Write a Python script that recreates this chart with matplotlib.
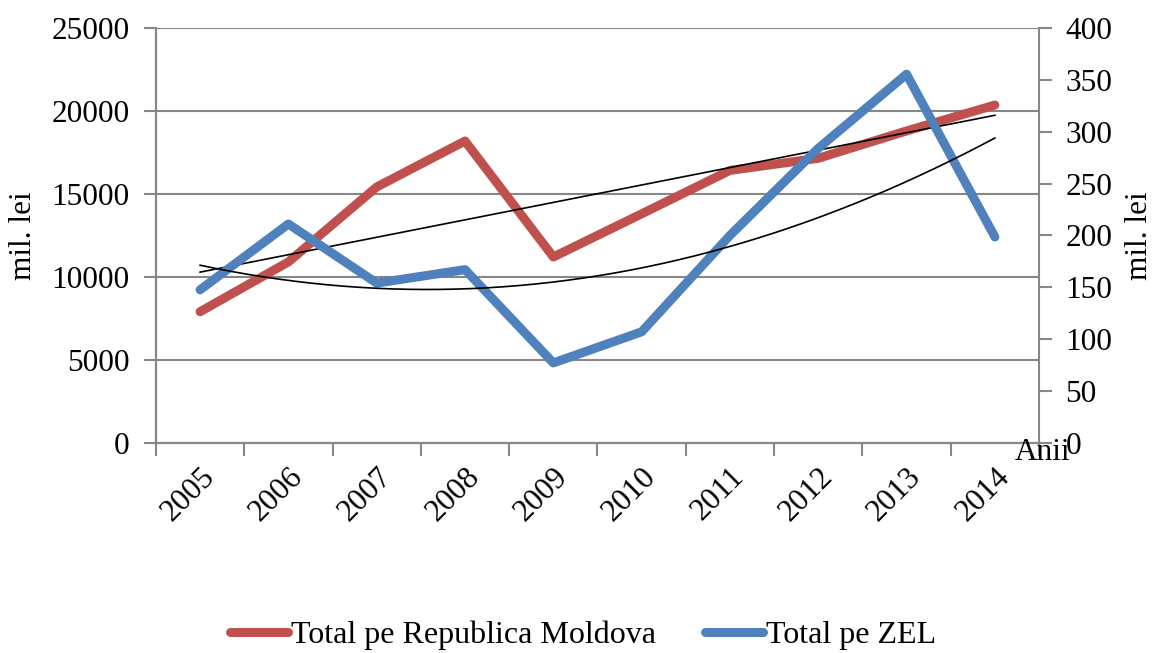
import numpy as np
import matplotlib
matplotlib.use("Agg")
import matplotlib.pyplot as plt
from matplotlib.lines import Line2D

# data
years = ["2005", "2006", "2007", "2008", "2009", "2010", "2011", "2012", "2013", "2014"]
moldova = [7900, 10900, 15420, 18190, 11200, 13800, 16420, 17150, 18800, 20360]   # mil. lei, left axis
zel = [147.5, 211, 154, 167, 77, 107, 200, 284, 355.5, 198.5]                    # mil. lei, right axis

plt.rcParams['font.family'] = ['Liberation Serif', 'DejaVu Serif']
plt.rcParams['font.size'] = 22.5

red = "#C0504D"
blue = "#4F81BD"
grey = "#878787"

fig = plt.figure(figsize=(11.55, 6.53), dpi=100)
ax = fig.add_axes([0.135, 0.322, 0.7646, 0.635])
ax2 = ax.twinx()

x = np.arange(len(years))

ax.plot(x, moldova, color=red, lw=6.5, solid_capstyle="round", solid_joinstyle="round", zorder=2)
ax2.plot(x, zel, color=blue, lw=6.5, solid_capstyle="round", solid_joinstyle="round", zorder=2)

# trend lines: linear for Moldova, 2nd order polynomial for ZEL
xs = np.linspace(0, len(years) - 1, 200)
p1 = np.polyfit(x, moldova, 1)
p2 = np.polyfit(x, zel, 2)
ax.plot(xs, np.polyval(p1, xs), color="black", lw=1.2, zorder=3)
ax2.plot(xs, np.polyval(p2, xs), color="black", lw=1.2, zorder=3)

ax.set_xlim(-0.5, len(years) - 0.5)
ax.set_ylim(0, 25000)
ax2.set_ylim(0, 400)
ax.set_yticks(np.arange(0, 25001, 5000))
ax2.set_yticks(np.arange(0, 401, 50))
ax.grid(axis="y", color=grey, lw=1.5)
ax.set_axisbelow(True)

ax.set_xticks(np.arange(-0.5, len(years), 1.0))
ax.set_xticklabels([])
ax.set_xticks(x, minor=True)
ax.set_xticklabels(years, minor=True, rotation=45, ha="right", rotation_mode="anchor")
ax.tick_params(axis="x", which="minor", length=0, pad=14)
ax.tick_params(axis="x", which="major", length=9, width=1.5, color=grey, direction="out")
ax.tick_params(axis="y", length=9, width=1.5, color=grey, pad=10)
ax2.tick_params(axis="y", length=9, width=1.5, color=grey, pad=10)

for a in (ax, ax2):
    a.spines["top"].set_visible(False)
    for s in ("left", "right", "bottom"):
        a.spines[s].set_color(grey)
        a.spines[s].set_linewidth(1.5)
ax.spines["right"].set_visible(False)

ax.set_ylabel("mil. lei", labelpad=10)
ax2.set_ylabel("mil. lei", labelpad=9)
fig.text(1015 / 1155, 1 - 452 / 653, "Anii", ha="left", va="center")

handles = [Line2D([], [], color=red, lw=6.5, solid_capstyle="round"),
           Line2D([], [], color=blue, lw=6.5, solid_capstyle="round")]
fig.legend(handles, ["Total pe Republica Moldova", "Total pe ZEL"],
           loc="center", bbox_to_anchor=(0.505, 0.027), ncol=2, frameon=False,
           fontsize=23, handlelength=1.8, handletextpad=0.1, columnspacing=1.55)

fig.savefig("out.png", dpi=100)
